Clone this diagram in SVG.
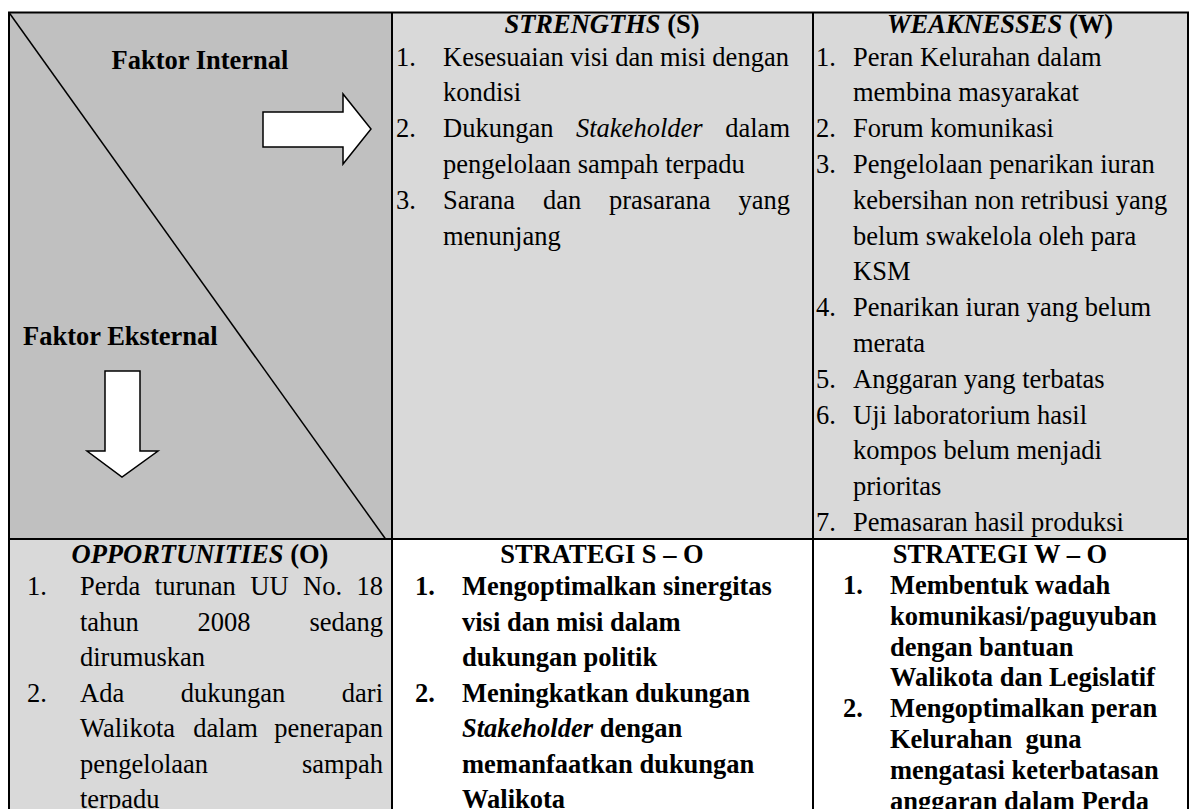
<svg xmlns="http://www.w3.org/2000/svg" width="1191" height="809" viewBox="0 0 1191 809">
<style>
text{font-family:"Liberation Serif","Times New Roman",serif;font-size:26.5px;fill:#000}
.b{font-weight:bold}
.i{font-style:italic}
.m{text-anchor:middle}
.e{text-anchor:end}
.grid{stroke:#000;stroke-width:2;fill:none}
.arrow{fill:#fff;stroke:#000;stroke-width:1.5;stroke-linejoin:miter}
</style>
<rect width="1191" height="809" fill="#fff"/>
<g id="cell-corner">
<rect x="9" y="12.5" width="383" height="526.5" fill="#c0c0c0"/>
<line x1="9" y1="12.5" x2="387" y2="541" stroke="#000" stroke-width="1.5"/>
<text class="b m" x="200" y="69">Faktor Internal</text>
<text class="b" x="23" y="345">Faktor Eksternal</text>
</g>
<g id="cell-strengths">
<rect x="392" y="12.5" width="421" height="526.5" fill="#d9d9d9"/>
<text class="b m" x="602" y="33"><tspan class="i">STRENGTHS</tspan> (S)</text>
<text x="396" y="65.5">1.</text><text x="443" y="65.5">Kesesuaian visi dan misi dengan</text>
<text x="443" y="101.3">kondisi</text>
<text x="396" y="137.1">2.</text><text x="443" y="137.1">Dukungan</text><text class="i" x="576" y="137.1">Stakeholder</text><text class="e" x="790" y="137.1">dalam</text>
<text x="443" y="172.9">pengelolaan sampah terpadu</text>
<text x="396" y="208.7">3.</text><text x="443" y="208.7">Sarana</text><text x="543" y="208.7">dan</text><text x="609" y="208.7">prasarana</text><text class="e" x="790" y="208.7">yang</text>
<text x="443" y="244.5">menunjang</text>
</g>
<g id="cell-weaknesses">
<rect x="813" y="12.5" width="375" height="526.5" fill="#d9d9d9"/>
<text class="b m" x="1000" y="33"><tspan class="i">WEAKNESSES</tspan> (W)</text>
<text x="816" y="65.5">1.</text><text x="853" y="65.5">Peran Kelurahan dalam</text>
<text x="853" y="101.3">membina masyarakat</text>
<text x="816" y="137.1">2.</text><text x="853" y="137.1">Forum komunikasi</text>
<text x="816" y="172.9">3.</text><text x="853" y="172.9">Pengelolaan penarikan iuran</text>
<text x="853" y="208.7">kebersihan non retribusi yang</text>
<text x="853" y="244.5">belum swakelola oleh para</text>
<text x="853" y="280.3">KSM</text>
<text x="816" y="316.1">4.</text><text x="853" y="316.1">Penarikan iuran yang belum</text>
<text x="853" y="351.9">merata</text>
<text x="816" y="387.7">5.</text><text x="853" y="387.7">Anggaran yang terbatas</text>
<text x="816" y="423.5">6.</text><text x="853" y="423.5">Uji laboratorium hasil</text>
<text x="853" y="459.3">kompos belum menjadi</text>
<text x="853" y="495.1">prioritas</text>
<text x="816" y="530.9">7.</text><text x="853" y="530.9">Pemasaran hasil produksi</text>
</g>
<g id="cell-opportunities">
<rect x="9" y="539" width="383" height="280" fill="#d9d9d9"/>
<text class="b m" x="200" y="563"><tspan class="i">OPPORTUNITIES</tspan> (O)</text>
<text x="27" y="595">1.</text><text x="80" y="595">Perda</text><text x="154.8" y="595">turunan</text><text x="250.3" y="595">UU</text><text x="303.1" y="595">No.</text><text class="e" x="383" y="595">18</text>
<text x="80" y="630.5">tahun</text><text x="197.6" y="630.5">2008</text><text class="e" x="383" y="630.5">sedang</text>
<text x="80" y="666">dirumuskan</text>
<text x="27" y="701.5">2.</text><text x="80" y="701.5">Ada</text><text x="180.7" y="701.5">dukungan</text><text class="e" x="383" y="701.5">dari</text>
<text x="80" y="737">Walikota</text><text x="193.2" y="737">dalam</text><text class="e" x="383" y="737">penerapan</text>
<text x="80" y="772.5">pengelolaan</text><text class="e" x="383" y="772.5">sampah</text>
<text x="80" y="808">terpadu</text>
</g>
<g id="cell-strategi-so">
<rect x="392" y="539" width="421" height="280" fill="#fff"/>
<text class="b m" x="602" y="563">STRATEGI S – O</text>
<text class="b" x="415" y="595">1.</text><text class="b" x="462" y="595">Mengoptimalkan sinergitas</text>
<text class="b" x="462" y="630.5">visi dan misi dalam</text>
<text class="b" x="462" y="666">dukungan politik</text>
<text class="b" x="415" y="701.5">2.</text><text class="b" x="462" y="701.5">Meningkatkan dukungan</text>
<text class="b" x="462" y="737"><tspan class="i">Stakeholder</tspan> dengan</text>
<text class="b" x="462" y="772.5">memanfaatkan dukungan</text>
<text class="b" x="462" y="808">Walikota</text>
</g>
<g id="cell-strategi-wo">
<rect x="813" y="539" width="375" height="280" fill="#fff"/>
<text class="b m" x="1000" y="563">STRATEGI W – O</text>
<text class="b" x="843" y="594">1.</text><text class="b" x="890" y="594">Membentuk wadah</text>
<text class="b" x="890" y="624.8">komunikasi/paguyuban</text>
<text class="b" x="890" y="655.6">dengan bantuan</text>
<text class="b" x="890" y="686.4">Walikota dan Legislatif</text>
<text class="b" x="843" y="717.2">2.</text><text class="b" x="890" y="717.2">Mengoptimalkan peran</text>
<text class="b" x="890" y="748">Kelurahan&#160; guna</text>
<text class="b" x="890" y="778.8">mengatasi keterbatasan</text>
<text class="b" x="890" y="809.6">anggaran dalam Perda</text>
</g>
<g id="grid">
<path class="grid" d="M9,830 V12.5 H1188 V830 M392,12.5 V830 M813,12.5 V830 M9,539 H1188"/>
</g>
<g id="connectors">
<polygon class="arrow" points="263,112 343,112 343,94 371,129 343,164 343,147 263,147"/>
<polygon class="arrow" points="105,371 140,371 140,451 158,451 122,477 87,451 105,451"/>
</g>
</svg>
